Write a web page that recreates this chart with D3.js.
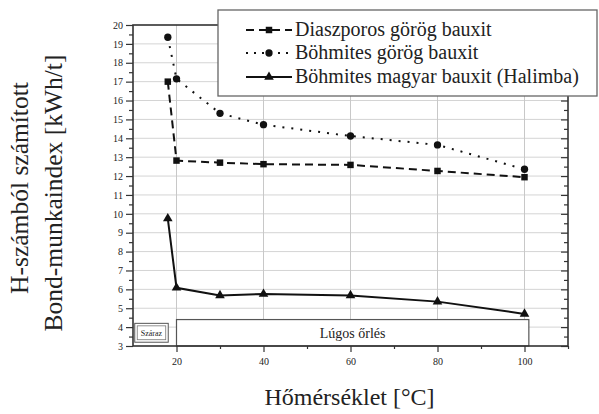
<!DOCTYPE html>
<html><head><meta charset="utf-8">
<script src="https://cdn.jsdelivr.net/npm/d3@7"></script>
<style>body{margin:0;background:#fff}svg{display:block}</style>
</head><body><svg id="c" width="599" height="414"></svg>
<script>
const temps = [18, 20, 30, 40, 60, 80, 100];
const diaszporos = [17.0, 12.82, 12.71, 12.63, 12.59, 12.27, 11.94];
const bohmitesGorog = [19.35, 17.15, 15.32, 14.72, 14.12, 13.65, 12.36];
const halimba = [9.75, 6.08, 5.68, 5.75, 5.68, 5.35, 4.7];
const seriesNames = ["Diaszporos görög bauxit", "Böhmites görög bauxit", "Böhmites magyar bauxit (Halimba)"];
const xTicks = [20, 40, 60, 80, 100];
const yTicks = d3.range(3, 21);
const xTitle = "Hőmérséklet [°C]";
const yTitle = ["H-számból számított", "Bond-munkaindex [kWh/t]"];
const phaseLabels = ["Száraz", "Lúgos őrlés"];

const FONT = "'Liberation Serif', 'Times New Roman', 'DejaVu Serif', serif";
const svg = d3.select("#c");
const L = 133, R = 568, T = 25, B = 346;
const x = d3.scaleLinear().domain([10, 110]).range([L, R]);
const y = d3.scaleLinear().domain([3, 20]).range([B, T]);

// grid
svg.append("g").selectAll("line").data(yTicks.slice(1, -1)).join("line")
  .attr("x1", L).attr("x2", R).attr("y1", d => y(d)).attr("y2", d => y(d))
  .attr("stroke", "#d4d4d4").attr("stroke-width", 1);
svg.append("g").selectAll("line").data(xTicks).join("line")
  .attr("y1", T).attr("y2", B).attr("x1", d => x(d)).attr("x2", d => x(d))
  .attr("stroke", "#c8c8c8").attr("stroke-width", 1);

// phase boxes
svg.append("rect").attr("x", x(20)).attr("y", y(4.4)).attr("width", x(101) - x(20)).attr("height", B - y(4.4))
  .attr("fill", "#fff").attr("stroke", "#555").attr("stroke-width", 1.2);
svg.append("text").attr("x", (x(20) + x(101)) / 2).attr("y", y(3.7) + 5).attr("text-anchor", "middle")
  .attr("font-size", 14).text(phaseLabels[1]);
svg.append("rect").attr("x", x(10.4)).attr("y", y(4.2)).attr("width", x(18.1) - x(10.4)).attr("height", y(3.2) - y(4.2))
  .attr("fill", "#fff").attr("stroke", "#555").attr("stroke-width", 1);
svg.append("rect").attr("x", x(10.4) + 2.5).attr("y", y(4.2) + 2.5).attr("width", x(18.1) - x(10.4) - 5).attr("height", y(3.2) - y(4.2) - 5)
  .attr("fill", "none").attr("stroke", "#777").attr("stroke-width", 0.8);
svg.append("text").attr("x", (x(10.4) + x(18.1)) / 2).attr("y", y(3.7) + 3).attr("text-anchor", "middle")
  .attr("font-size", 8).text(phaseLabels[0]);

// axes
const ax = svg.append("g");
ax.append("g").attr("transform", `translate(0,${B})`)
  .call(d3.axisBottom(x).tickValues(xTicks).tickSize(6).tickPadding(6).tickFormat(d3.format("d")));
ax.append("g").attr("transform", `translate(0,${B})`)
  .call(d3.axisBottom(x).tickValues([30, 50, 70, 90, 110]).tickSize(3).tickFormat(""));
ax.append("g").attr("transform", `translate(${L},0)`)
  .call(d3.axisLeft(y).tickValues(yTicks).tickSize(7).tickPadding(3).tickFormat(d3.format("d")));
ax.append("g").attr("transform", `translate(${L},0)`)
  .call(d3.axisLeft(y).tickValues(d3.range(3.5, 20, 1)).tickSize(4).tickFormat(""));
ax.append("g").attr("transform", `translate(${R},0)`)
  .call(d3.axisLeft(y).tickValues(yTicks).tickSize(7).tickFormat(""));
ax.append("g").attr("transform", `translate(${R},0)`)
  .call(d3.axisLeft(y).tickValues(d3.range(3.5, 20, 1)).tickSize(4).tickFormat(""));
ax.selectAll(".domain").remove();
ax.selectAll(".tick line").attr("stroke", "#333").attr("stroke-width", 1.2);
ax.selectAll(".tick text").attr("font-size", 10).attr("fill", "#444");
svg.append("rect").attr("x", L).attr("y", T).attr("width", R - L).attr("height", B - T)
  .attr("fill", "none").attr("stroke", "#333").attr("stroke-width", 1.6);

// series
const line = d3.line().x((d, i) => x(temps[i])).y(d => y(d));
const styles = [
  { data: diaszporos, dash: "8,5", ldash: "8,5", marker: d3.symbolSquare, size: 42 },
  { data: bohmitesGorog, dash: "2,7", ldash: "2,6", marker: d3.symbolCircle, size: 42 },
  { data: halimba, dash: null, ldash: null, marker: d3.symbolTriangle, size: 40 }
];
styles.forEach(s => {
  svg.append("path").datum(s.data).attr("d", line).attr("fill", "none")
    .attr("stroke", "#111").attr("stroke-width", 2)
    .attr("stroke-dasharray", s.dash);
  svg.append("g").selectAll("path").data(s.data).join("path")
    .attr("transform", (d, i) => `translate(${x(temps[i])},${y(d)})`)
    .attr("d", d3.symbol().type(s.marker).size(s.size)).attr("fill", "#111");
});

// legend
const lg = svg.append("g");
lg.append("rect").attr("x", 218).attr("y", 10).attr("width", 379).attr("height", 86)
  .attr("fill", "#fff").attr("stroke", "#666").attr("stroke-width", 1.3);
const rowsY = [30, 53, 77];
styles.forEach((s, i) => {
  lg.append("line").attr("x1", 246).attr("x2", 292).attr("y1", rowsY[i]).attr("y2", rowsY[i])
    .attr("stroke", "#111").attr("stroke-width", 2).attr("stroke-dasharray", s.ldash);
  lg.append("path").attr("transform", `translate(269,${rowsY[i]})`)
    .attr("d", d3.symbol().type(s.marker).size(s.size)).attr("fill", "#111");
  lg.append("text").attr("x", 295).attr("y", rowsY[i] + 6).attr("font-size", 20).text(seriesNames[i]);
});

// titles
svg.append("text").attr("x", (L + R) / 2 - 1).attr("y", 405).attr("text-anchor", "middle")
  .attr("font-size", 24).text(xTitle);
svg.append("text").attr("transform", "translate(28,188) rotate(-90)").attr("text-anchor", "middle")
  .attr("font-size", 25.5).text(yTitle[0]);
svg.append("text").attr("transform", "translate(62,193) rotate(-90)").attr("text-anchor", "middle")
  .attr("font-size", 25.5).text(yTitle[1]);

svg.selectAll("text").attr("font-family", null).style("font-family", FONT).style("fill", "#222");
svg.selectAll("g").attr("font-family", null);
</script></body></html>
